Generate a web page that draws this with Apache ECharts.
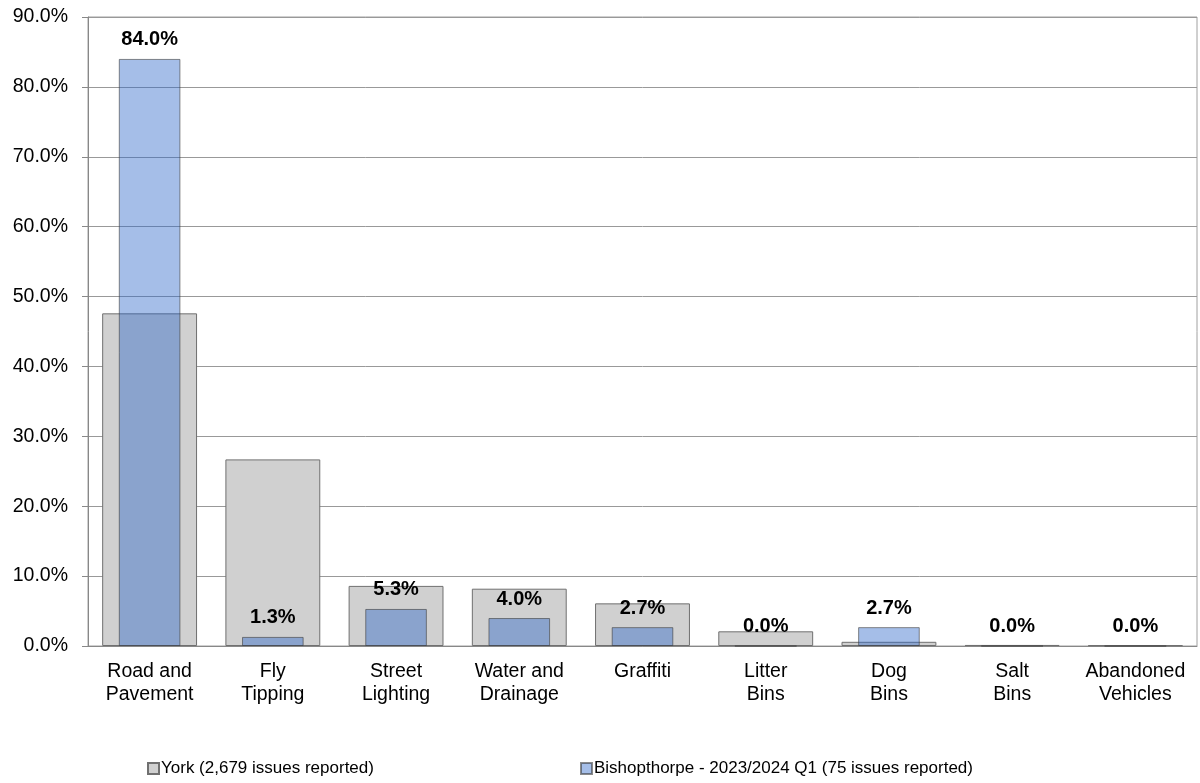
<!DOCTYPE html>
<html>
<head>
<meta charset="utf-8">
<script src="https://cdn.jsdelivr.net/npm/echarts@6/dist/echarts.min.js"></script>
<style>
  html, body { margin: 0; padding: 0; background: #fff; }
  #container { width: 1200px; height: 783px; }
</style>
</head>
<body>
<div id="container"></div>
<script>
// 数据
var categories = ['Road and\nPavement', 'Fly\nTipping', 'Street\nLighting', 'Water and\nDrainage',
    'Graffiti', 'Litter\nBins', 'Dog\nBins', 'Salt\nBins', 'Abandoned\nVehicles'];
var yorkName = 'York (2,679 issues reported)';
var bishopName = 'Bishopthorpe - 2023/2024 Q1 (75 issues reported)';
var yorkValues = [47.6, 26.7, 8.6, 8.2, 6.1, 2.1, 0.6, 0.15, 0.1];
var bishopValues = [84.0, 1.3, 5.3, 4.0, 2.7, 0.0, 2.7, 0.0, 0.0];

var myChart = echarts.init(document.getElementById('container'));

var font = 'Liberation Sans, Arial, sans-serif';

var option = {
    animation: false,
    textStyle: { fontFamily: font },
    grid: {
        left: 88,
        right: 3,
        top: 17,
        bottom: 137,
        show: true,
        borderColor: '#a0a0a0',
        borderWidth: 1
    },
    legend: [
        {
            data: [yorkName],
            left: 142,
            top: 755,
            icon: 'rect',
            itemWidth: 11,
            itemHeight: 11,
            textStyle: { fontSize: 17, color: '#000', padding: [0, 0, 0, -3] }
        },
        {
            data: [bishopName],
            left: 575,
            top: 755,
            icon: 'rect',
            itemWidth: 11,
            itemHeight: 11,
            textStyle: { fontSize: 17, color: '#000', padding: [0, 0, 0, -3] }
        }
    ],
    xAxis: [
        {
            type: 'category',
            data: categories,
            axisLine: { lineStyle: { color: '#888' } },
            axisTick: { length: 6, lineStyle: { color: '#888' } },
            axisLabel: {
                interval: 0,
                color: '#000',
                fontSize: 19.5,
                lineHeight: 23,
                margin: 14
            }
        },
        {
            type: 'category',
            data: categories,
            show: false
        }
    ],
    yAxis: {
        type: 'value',
        min: 0,
        max: 90,
        interval: 10,
        axisLine: { show: true, lineStyle: { color: '#888' } },
        axisTick: { show: true, length: 6, lineStyle: { color: '#888' } },
        splitLine: { lineStyle: { color: '#999' } },
        axisLabel: {
            color: '#000',
            fontSize: 19.5,
            margin: 20,
            formatter: function (v) { return v.toFixed(1) + '%'; }
        }
    },
    series: [
        {
            name: yorkName,
            type: 'bar',
            xAxisIndex: 0,
            barWidth: '77%',
            data: yorkValues,
            itemStyle: {
                color: '#d0d0d0',
                borderColor: '#707070',
                borderWidth: 1
            }
        },
        {
            name: bishopName,
            type: 'bar',
            xAxisIndex: 1,
            barWidth: '50%',
            data: bishopValues,
            z: 3,
            itemStyle: {
                color: 'rgba(40,100,200,0.42)',
                borderColor: 'rgba(60,60,60,0.6)',
                borderWidth: 1
            },
            label: {
                show: true,
                position: 'top',
                distance: 9,
                color: '#000',
                fontWeight: 'bold',
                fontSize: 20,
                formatter: function (p) { return p.value.toFixed(1) + '%'; }
            }
        }
    ]
};
myChart.setOption(option);
</script>
</body>
</html>
